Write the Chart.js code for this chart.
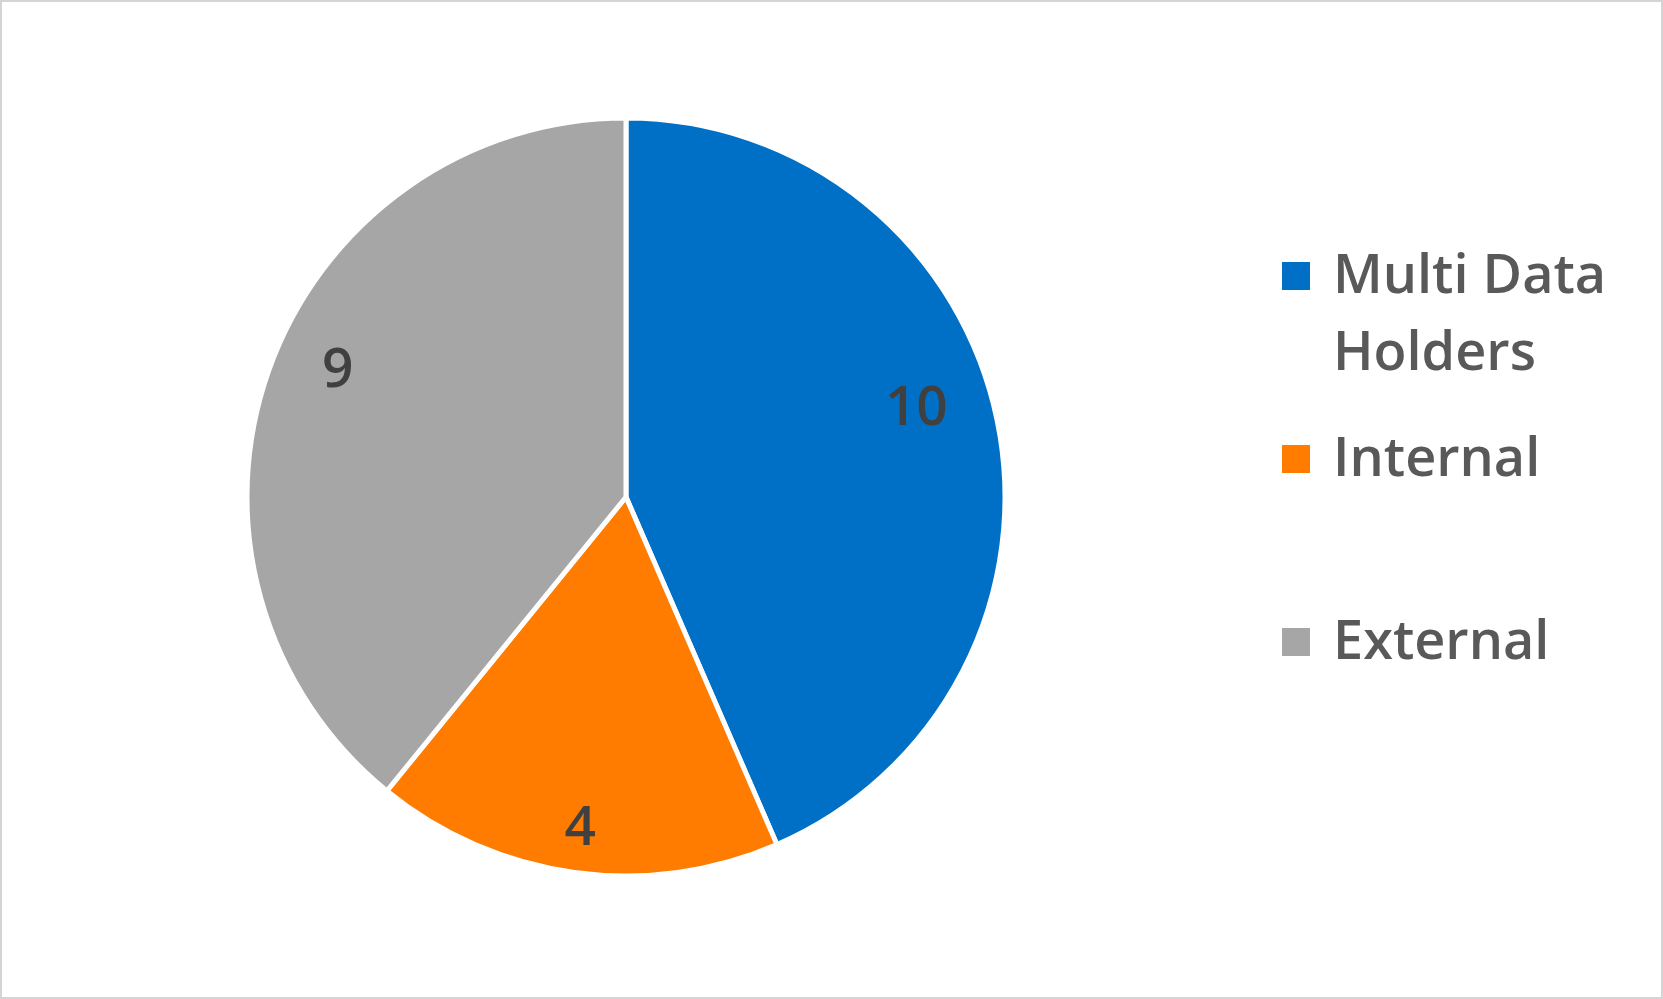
<!DOCTYPE html>
<html>
<head>
<meta charset="utf-8">
<script src="https://cdn.jsdelivr.net/npm/chart.js@4/dist/chart.umd.min.js"></script>
<style>
    html, body { margin: 0; padding: 0; background: #fff; }
    #wrap {
        width: 1663px; height: 999px;
        box-sizing: border-box;
        border: 2px solid #d4d4d4;
        background: #fff;
    }
    canvas { display: block; }
</style>
</head>
<body>
<div id="wrap"><canvas id="pieChart" width="1659" height="995"></canvas></div>
<script>
// 数据
const categories = ['Multi Data Holders', 'Internal', 'External'];
const counts = [10, 4, 9];
const sliceColors = ['#0070c6', '#ff7c00', '#a6a6a6'];

// 标签位置微调 (半径比例, 角度偏移°)
const labelRadius = [0.80, 0.885, 0.83];
const labelShift = [-5, 0, 4];

const FONT = '"Open Sans", "Liberation Sans", sans-serif';

// 扇区数值标签
const valueLabels = {
    id: 'valueLabels',
    afterDatasetsDraw(chart) {
        const ctx = chart.ctx;
        const meta = chart.getDatasetMeta(0);
        ctx.save();
        ctx.font = '600 55px ' + FONT;
        ctx.fillStyle = '#404040';
        ctx.textAlign = 'center';
        ctx.textBaseline = 'middle';
        meta.data.forEach((arc, i) => {
            const p = arc.getProps(['x', 'y', 'startAngle', 'endAngle', 'outerRadius'], true);
            const mid = (p.startAngle + p.endAngle) / 2 + labelShift[i] * Math.PI / 180;
            const r = p.outerRadius * labelRadius[i];
            ctx.fillText(String(counts[i]), p.x + Math.cos(mid) * r, p.y + Math.sin(mid) * r);
        });
        ctx.restore();
    }
};

// 右侧图例 (自动换行)
const sideLegend = {
    id: 'sideLegend',
    afterDraw(chart) {
        const ctx = chart.ctx;
        const boxX = 1280, boxSize = 28, textX = 1331;
        const firstBaseline = 291, rowStep = 183, lineHeight = 77, maxWidth = 290;
        ctx.save();
        ctx.font = '600 54px ' + FONT;
        ctx.textBaseline = 'alphabetic';
        ctx.textAlign = 'left';
        categories.forEach((label, i) => {
            const base = firstBaseline + i * rowStep;
            ctx.fillStyle = sliceColors[i];
            ctx.fillRect(boxX, base - 31, boxSize, boxSize);
            // 换行
            const words = label.split(' ');
            const lines = [];
            let cur = '';
            words.forEach(w => {
                const test = cur ? cur + ' ' + w : w;
                if (cur && ctx.measureText(test).width > maxWidth) {
                    lines.push(cur);
                    cur = w;
                } else {
                    cur = test;
                }
            });
            lines.push(cur);
            ctx.fillStyle = '#595959';
            lines.forEach((ln, j) => ctx.fillText(ln, textX, base + j * lineHeight));
        });
        ctx.restore();
    }
};

const ctx = document.getElementById('pieChart').getContext('2d');
new Chart(ctx, {
    type: 'pie',
    data: {
        labels: categories,
        datasets: [{
            data: counts,
            backgroundColor: sliceColors,
            borderColor: '#ffffff',
            borderWidth: 5,
            radius: 379
        }]
    },
    options: {
        responsive: false,
        animation: false,
        layout: { padding: { left: 0, right: 411, top: 0, bottom: 5 } },
        plugins: {
            legend: { display: false },
            tooltip: { enabled: false }
        }
    },
    plugins: [valueLabels, sideLegend]
});
</script>
</body>
</html>
